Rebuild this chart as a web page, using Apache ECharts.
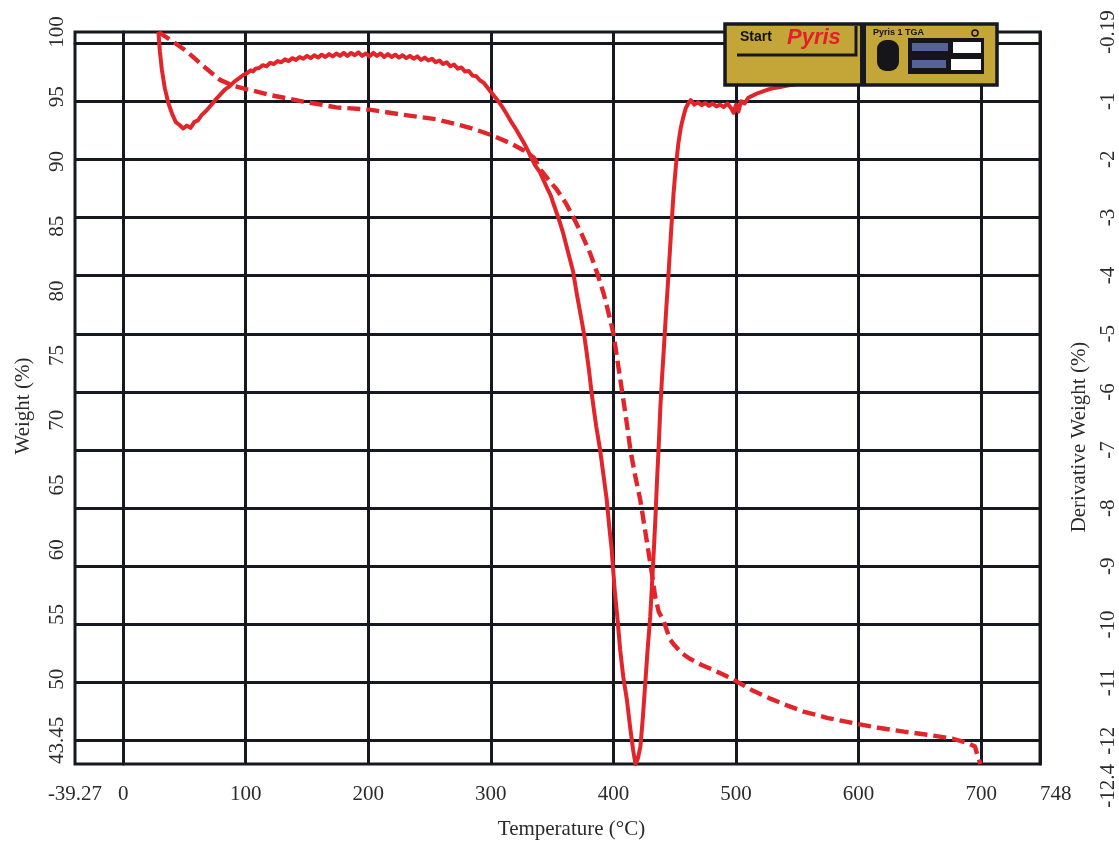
<!DOCTYPE html>
<html>
<head>
<meta charset="utf-8">
<title>TGA / DTG</title>
<script src="https://cdn.jsdelivr.net/npm/echarts@6/dist/echarts.min.js"></script>
<style>
  html, body { margin: 0; padding: 0; background: #ffffff; }
  #chart { width: 1119px; height: 844px; }
</style>
</head>
<body>
<div id="chart"></div>
<script>
// ---- Tick positions and labels ----
const tempGridValues = [0, 100, 200, 300, 400, 500, 600, 700];
const tempLabelValues = [-39.27, 0, 100, 200, 300, 400, 500, 600, 700, 748];
const weightLabelValues = [43.45, 50, 55, 60, 65, 70, 75, 80, 85, 90, 95, 100];
const derivGridValues = [-12, -11, -10, -9, -8, -7, -6, -5, -4, -3, -2, -1, 0];
const derivLabelValues = [-12.4, -12, -11, -10, -9, -8, -7, -6, -5, -4, -3, -2, -1, 0.19];
const derivLabelText = ['-12.4', '-12', '-11', '-10', '-9', '-8', '-7', '-6', '-5', '-4', '-3', '-2', '-1', '-0.19'];

// ---- Weight (%) vs temperature (dashed curve, left axis) ----
const weightTemp = [28.8, 40, 52, 65, 79, 90, 98, 120, 147, 174, 201, 229, 256, 283, 300, 315, 327, 335, 341, 347, 354, 361, 367, 374, 381, 387, 392, 396, 400, 403, 406, 409, 411, 414, 418, 422, 427, 431, 434, 437, 441, 446, 450, 456, 462, 472, 482, 492, 501, 514, 528, 541, 555, 575, 596, 616, 637, 657, 677, 688, 695, 697, 699.5];
const weightPct = [100.0, 99.3, 98.5, 97.4, 96.3, 95.85, 95.65, 95.13, 94.62, 94.18, 94.0, 93.6, 93.25, 92.6, 92.05, 91.45, 90.85, 90.3, 89.3, 88.6, 87.8, 86.8, 85.75, 84.4, 82.9, 81.3, 79.8, 78.3, 76.7, 74.8, 72.9, 71.0, 69.7, 67.6, 65.6, 63.8, 60.8, 58.4, 56.4, 55.2, 54.5, 53.1, 52.6, 52.0, 51.6, 51.1, 50.7, 50.25, 49.8, 49.1, 48.5, 48.0, 47.5, 47.0, 46.6, 46.25, 45.95, 45.7, 45.4, 45.1, 44.8, 44.1, 43.45];

// ---- Derivative weight (%) vs temperature (solid curve, right axis) ----
const derivTemp = [28.8, 30, 31.6, 34, 37, 40, 43, 46, 49, 52, 55, 58, 61, 64, 68, 72, 76, 79, 83, 87, 91, 95, 98,
  101, 104, 106, 108, 111, 114, 117, 120, 123, 126, 129, 132, 135, 138, 141, 144, 147, 150, 153, 156, 159, 162, 165, 168, 171, 174, 177, 180, 183, 186, 189, 192, 195, 198,
  201, 204, 207, 210, 213, 216, 219, 222, 225, 228, 231, 234, 237, 240, 243, 246, 249, 252, 255, 258, 261, 264, 267, 270, 273, 276, 279, 282, 285, 288, 291, 294, 297,
  300, 303, 306, 310, 314, 317, 321, 324, 327, 330, 333, 336, 340, 343, 346, 349, 351, 355, 359, 363, 367, 370, 373, 376, 378, 380, 382, 384, 386, 389, 392, 394.5, 396.5, 398.5,
  401, 403.5, 405.5, 408, 411, 413.5, 416, 418, 420, 422, 424, 426, 428, 430, 431.5, 433, 434.3, 435.5, 437, 438.2, 439.5, 441, 443, 445, 447, 449, 451, 453, 455, 457, 459, 461, 463,
  466, 469, 472, 475, 478, 481, 484, 487, 490, 493, 496, 498, 500, 502, 504, 507, 510, 514, 518, 522, 526, 530, 535, 540, 545, 551];
const derivPct = [0.19, -0.15, -0.46, -0.78, -1.04, -1.22, -1.36, -1.41, -1.47, -1.42, -1.46, -1.36, -1.33, -1.24, -1.16, -1.06, -0.96, -0.89, -0.8, -0.74, -0.66, -0.6, -0.55,
  -0.52, -0.47, -0.49, -0.44, -0.43, -0.38, -0.4, -0.34, -0.36, -0.31, -0.33, -0.28, -0.31, -0.26, -0.29, -0.24, -0.27, -0.22, -0.26, -0.21, -0.25, -0.2, -0.24, -0.19, -0.23, -0.18, -0.22, -0.17, -0.22, -0.17, -0.21, -0.16, -0.22, -0.18,
  -0.23, -0.17, -0.22, -0.18, -0.24, -0.19, -0.24, -0.2, -0.25, -0.21, -0.26, -0.22, -0.27, -0.23, -0.29, -0.25, -0.3, -0.27, -0.33, -0.3, -0.36, -0.33, -0.4, -0.37, -0.44, -0.42, -0.49, -0.48, -0.56, -0.57, -0.64, -0.68, -0.76,
  -0.84, -0.92, -1.0, -1.12, -1.26, -1.37, -1.5, -1.61, -1.72, -1.84, -1.97, -2.1, -2.22, -2.36, -2.5, -2.63, -2.76, -3.0, -3.27, -3.6, -3.92, -4.3, -4.65, -5.0, -5.3, -5.62, -5.98, -6.3, -6.6, -6.98, -7.45, -7.85, -8.3, -8.7,
  -9.4, -9.95, -10.44, -10.9, -11.3, -11.75, -12.15, -12.4, -12.3, -12.1, -11.6, -11.0, -10.4, -9.87, -9.3, -8.7, -8.15, -7.55, -6.9, -6.3, -5.8, -5.3, -4.6, -3.95, -3.25, -2.6, -2.1, -1.72, -1.45, -1.27, -1.12, -1.04, -0.98,
  -1.06, -1.02, -1.07, -1.03, -1.08, -1.04, -1.09, -1.06, -1.1, -1.04, -1.12, -1.2, -1.06, -1.18, -1.0, -1.04, -0.94, -0.9, -0.86, -0.83, -0.8, -0.78, -0.76, -0.74, -0.72, -0.7];

const weightData = weightTemp.map((t, i) => [t, weightPct[i]]);
const derivData = derivTemp.map((t, i) => [t, derivPct[i]]);

const INK = '#161a20';
const CURVE = '#e1252a';
const SERIF = '"Liberation Serif", "DejaVu Serif", serif';
const TEXT = '#2b2b2b';
const GOLD = '#c4a638';

function derivLabel(v) {
  for (let i = 0; i < derivLabelValues.length; i++) {
    if (Math.abs(derivLabelValues[i] - v) < 1e-6) return derivLabelText[i];
  }
  return String(v);
}

// overlaid instrument control strip, drawn above the plot
const Z_PANEL = 100;
function panel(el) { el.z = Z_PANEL; return el; }

const chart = echarts.init(document.getElementById('chart'), null, { renderer: 'canvas' });

chart.setOption({
  backgroundColor: '#ffffff',
  animation: false,
  grid: {
    left: 75, right: 79, top: 32, bottom: 80,
    containLabel: false,
    outerBoundsMode: 'none',
    show: true,
    borderColor: INK,
    borderWidth: 3,
    backgroundColor: 'transparent'
  },
  xAxis: {
    type: 'value',
    min: -39.27,
    max: 748,
    name: 'Temperature (°C)',
    nameLocation: 'middle',
    nameGap: 55,
    nameMoveOverlap: false,
    nameTextStyle: { fontFamily: SERIF, fontSize: 21, color: TEXT, padding: [0, 0, 0, 28] },
    axisLine: { show: true, lineStyle: { color: INK, width: 3 } },
    axisTick: { show: false, customValues: tempGridValues },
    splitLine: { show: true, lineStyle: { color: INK, width: 3 } },
    axisLabel: {
      customValues: tempLabelValues,
      showMinLabel: true, showMaxLabel: true, hideOverlap: false,
      fontFamily: SERIF, fontSize: 21, color: TEXT, margin: 20,
      alignMaxLabel: 'left'
    }
  },
  yAxis: [
    {
      type: 'value',
      position: 'left',
      min: 43.45,
      max: 100,
      name: 'Weight (%)',
      nameLocation: 'middle',
      nameRotate: 90,
      nameGap: 41,
      nameMoveOverlap: false,
      nameTextStyle: { fontFamily: SERIF, fontSize: 21, color: TEXT, padding: [0, 16, 0, 0] },
      axisLine: { show: true, lineStyle: { color: INK, width: 3 } },
      axisTick: { show: false, customValues: weightLabelValues },
      splitLine: { show: false },
      axisLabel: {
        customValues: weightLabelValues,
        showMinLabel: true, showMaxLabel: true, hideOverlap: false,
        rotate: 90,
        fontFamily: SERIF, fontSize: 21, color: TEXT, margin: 7,
        alignMinLabel: 'left'
      }
    },
    {
      type: 'value',
      position: 'right',
      min: -12.4,
      max: 0.19,
      name: 'Derivative Weight (%)',
      nameLocation: 'middle',
      nameRotate: 90,
      nameGap: 29,
      nameMoveOverlap: false,
      nameTextStyle: { fontFamily: SERIF, fontSize: 21, color: TEXT, padding: [0, 78, 0, 0] },
      axisLine: { show: true, lineStyle: { color: INK, width: 3 } },
      axisTick: { show: false, customValues: derivGridValues },
      splitLine: { show: true, lineStyle: { color: INK, width: 3 } },
      axisLabel: {
        customValues: derivLabelValues,
        showMinLabel: true, showMaxLabel: true, hideOverlap: false,
        rotate: 90,
        fontFamily: SERIF, fontSize: 21, color: TEXT, margin: 58,
        alignMinLabel: 'right',
        formatter: derivLabel
      }
    }
  ],
  series: [
    {
      name: 'Weight',
      type: 'line',
      yAxisIndex: 0,
      data: weightData,
      showSymbol: false,
      symbol: 'none',
      z: 5,
      lineStyle: { color: CURVE, width: 4.4, type: [13, 6], cap: 'butt' }
    },
    {
      name: 'Derivative Weight',
      type: 'line',
      yAxisIndex: 1,
      data: derivData,
      showSymbol: false,
      symbol: 'none',
      z: 6,
      lineStyle: { color: CURVE, width: 4, join: 'round' }
    }
  ],
  graphic: {
    z: Z_PANEL,
    elements: [{
      type: 'group',
      x: 725,
      y: 24,
      z: Z_PANEL,
      children: [
        panel({ type: 'rect', shape: { x: 0, y: 0, width: 272, height: 61 }, style: { fill: GOLD, stroke: INK, lineWidth: 3.5 } }),
        panel({ type: 'polyline', shape: { points: [[12, 31], [131, 31], [131, 2]] }, style: { stroke: INK, lineWidth: 3, fill: null } }),
        panel({ type: 'text', x: 15, y: 6, style: { text: 'Start', font: 'bold 14px "Liberation Sans", Arial, sans-serif', fill: '#111111' } }),
        panel({ type: 'text', x: 62, y: 3, style: { text: 'Pyris', font: 'italic bold 22px "Liberation Sans", Arial, sans-serif', fill: '#e3202a' } }),
        panel({ type: 'rect', shape: { x: 135, y: 0, width: 6, height: 61 }, style: { fill: INK } }),
        panel({ type: 'text', x: 148, y: 4, style: { text: 'Pyris 1 TGA', font: 'bold 9px "Liberation Sans", Arial, sans-serif', fill: '#111111' } }),
        panel({ type: 'circle', shape: { cx: 250, cy: 9, r: 3 }, style: { fill: GOLD, stroke: '#111111', lineWidth: 1.5 } }),
        panel({ type: 'rect', shape: { x: 152, y: 16, width: 22, height: 31, r: 9 }, style: { fill: '#15151a' } }),
        panel({ type: 'rect', shape: { x: 183, y: 14, width: 76, height: 36 }, style: { fill: '#15151a' } }),
        panel({ type: 'rect', shape: { x: 228, y: 18, width: 28, height: 11 }, style: { fill: '#ffffff' } }),
        panel({ type: 'rect', shape: { x: 226, y: 35, width: 30, height: 11 }, style: { fill: '#ffffff' } }),
        panel({ type: 'rect', shape: { x: 187, y: 19, width: 36, height: 8 }, style: { fill: '#56639a' } }),
        panel({ type: 'rect', shape: { x: 187, y: 36, width: 34, height: 8 }, style: { fill: '#56639a' } })
      ]
    }]
  }
});
</script>
</body>
</html>
